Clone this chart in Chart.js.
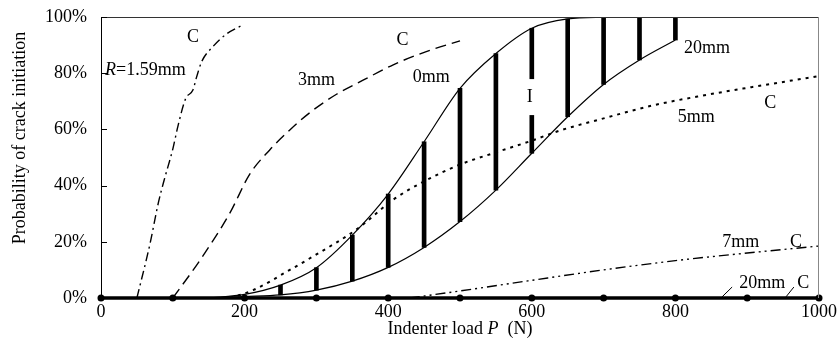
<!DOCTYPE html>
<html>
<head>
<meta charset="utf-8">
<script src="https://cdn.jsdelivr.net/npm/chart.js@4"></script>
<style>
  body { margin: 0; background: #fff; }
  #wrap { width: 840px; height: 358px; }
</style>
</head>
<body>
<div id="wrap"><canvas id="chart"></canvas></div>
<script>
// values (load in N, probability in %)
const r159Load = [50, 68, 80, 88, 100, 107, 118, 128, 133, 140, 156, 175, 196];
const r159Prob = [0, 19, 34, 42, 53, 61, 71, 74, 78.5, 84, 89.5, 94, 97];

const r3Load = [100, 138, 179, 207, 235, 263, 291, 328, 365, 407, 453, 500];
const r3Prob = [0, 13.5, 30, 44, 52.7, 59.8, 66, 72.5, 77.5, 83, 87.7, 91.5];

const bandLoad  = [150, 200, 250, 300, 350, 400, 450, 500, 550, 600, 650, 700, 750, 800];
const upperProb = [0, 1.3, 4.6, 10.8, 22.4, 37, 55.6, 74.6, 87, 96, 99.3, 99.9, 100, 100];
const lowerProb = [0, 0.5, 1.1, 2.8, 6, 10.9, 18, 27.2, 38.4, 51.5, 64.5, 76, 84.7, 91.8];
const barLoad = [250, 300, 350, 400, 450, 500, 550, 600, 650, 700, 750, 800];

const r5Load = [180, 212, 263, 300, 356, 407, 450, 500, 546, 600, 638, 694, 768, 833, 1000];
const r5Prob = [0, 2.8, 10, 15.5, 24.4, 35, 41.5, 47.5, 51.5, 56, 59.5, 63.5, 68.5, 71.8, 79];

const r7Load = [430, 500, 600, 700, 800, 900, 1000];
const r7Prob = [0, 2.5, 6.3, 10, 13.3, 16, 18.5];

const r20Load = [0, 100, 200, 300, 400, 500, 600, 700, 800, 900, 1000];
const r20Prob = [0, 0, 0, 0, 0, 0, 0, 0, 0, 0, 0];

const xTicks = [0, 200, 400, 600, 800, 1000];
const yTicks = [0, 20, 40, 60, 80, 100];

// text labels: [text, load, prob, align]
const notes = [
  ['C', 128, 92.9, 'center'],
  ['3mm', 300, 77.6, 'center'],
  ['C', 420, 91.8, 'center'],
  ['0mm', 460, 78.6, 'center'],
  ['20mm', 812, 89, 'left'],
  ['5mm', 829, 64.4, 'center'],
  ['C', 932, 69.4, 'center'],
  ['7mm', 891, 19.9, 'center'],
  ['C', 968, 19.9, 'center'],
  ['20mm', 921, 5.3, 'center'],
  ['C', 978, 5.3, 'center']
];
const leaders = [[865, 0.4, 879, 3.9], [954, 0.4, 965, 3.9]];

function pts(xs, ys) { return xs.map((x, i) => ({x: x, y: ys[i]})); }

const FONT = '"Liberation Serif", "Times New Roman", serif';

// draw text made of [string, italic] pieces, centred on x
function mixedText(ctx, parts, x, y) {
  let w = 0;
  parts.forEach(p => { ctx.font = (p[1] ? 'italic ' : '') + '18px ' + FONT; w += ctx.measureText(p[0]).width; });
  let cx = x - w / 2;
  ctx.textAlign = 'left';
  parts.forEach(p => {
    ctx.font = (p[1] ? 'italic ' : '') + '18px ' + FONT;
    ctx.fillText(p[0], cx, y);
    cx += ctx.measureText(p[0]).width;
  });
}

const decor = {
  id: 'decor',
  afterDatasetsDraw(chart) {
    const ctx = chart.ctx, a = chart.chartArea;
    const xs = chart.scales.x, ys = chart.scales.y;
    ctx.save();
    // frame top and right
    ctx.lineWidth = 1;
    ctx.strokeStyle = '#333';
    ctx.beginPath(); ctx.moveTo(a.left, a.top + 0.5); ctx.lineTo(a.right, a.top + 0.5); ctx.stroke();
    ctx.strokeStyle = '#888';
    ctx.beginPath(); ctx.moveTo(a.right - 0.5, a.top); ctx.lineTo(a.right - 0.5, a.bottom); ctx.stroke();
    // inner y ticks
    ctx.strokeStyle = '#000';
    yTicks.forEach(v => {
      const y = Math.round(ys.getPixelForValue(v)) + 0.5;
      ctx.beginPath(); ctx.moveTo(a.left, y); ctx.lineTo(a.left + 6, y); ctx.stroke();
    });
    // text labels
    ctx.fillStyle = '#000';
    ctx.font = '18px ' + FONT;
    ctx.textBaseline = 'middle';
    notes.forEach(n => {
      ctx.textAlign = n[3];
      ctx.fillText(n[0], xs.getPixelForValue(n[1]), ys.getPixelForValue(n[2]));
    });
    // R=1.59mm with italic R
    let px = xs.getPixelForValue(5.6), py = ys.getPixelForValue(81.1);
    ctx.textAlign = 'left';
    ctx.font = 'italic 18px ' + FONT;
    ctx.fillText('R', px, py);
    px += ctx.measureText('R').width;
    ctx.font = '18px ' + FONT;
    ctx.fillText('=1.59mm', px, py);
    // I label with gap in the bar
    const ix = xs.getPixelForValue(597), iy = ys.getPixelForValue(71.5);
    ctx.fillStyle = '#fff';
    ctx.fillRect(ix - 8, iy - 18, 16, 36);
    ctx.fillStyle = '#000';
    ctx.textAlign = 'center';
    ctx.fillText('I', ix, iy);
    // leader lines
    ctx.lineWidth = 1;
    leaders.forEach(l => {
      ctx.beginPath();
      ctx.moveTo(xs.getPixelForValue(l[0]), ys.getPixelForValue(l[1]));
      ctx.lineTo(xs.getPixelForValue(l[2]), ys.getPixelForValue(l[3]));
      ctx.stroke();
    });
    // x axis title
    mixedText(ctx, [['Indenter load ', false], ['P', true], ['  (N)', false]], (a.left + a.right) / 2, 329);
    // y axis title
    ctx.translate(20, 138);
    ctx.rotate(-Math.PI / 2);
    ctx.textAlign = 'center';
    ctx.font = '18px ' + FONT;
    ctx.fillText('Probability of crack initiation', 0, 0);
    ctx.restore();
  }
};

const lineBase = {
  type: 'line', pointRadius: 0, fill: false, borderColor: '#000',
  cubicInterpolationMode: 'monotone', borderWidth: 1.4
};

new Chart(document.getElementById('chart'), {
  type: 'line',
  data: {
    datasets: [
      Object.assign({}, lineBase, { label: '20mm', data: pts(r20Load, r20Prob), borderWidth: 3.5,
        pointRadius: 3.5, pointBackgroundColor: '#000', pointBorderWidth: 0, clip: false }),
      Object.assign({}, lineBase, { label: 'R=1.59mm', data: pts(r159Load, r159Prob), borderDash: [9, 4, 2, 4] }),
      Object.assign({}, lineBase, { label: '3mm', data: pts(r3Load, r3Prob), borderDash: [11, 6] }),
      Object.assign({}, lineBase, { label: '0mm', data: pts(bandLoad, upperProb), borderWidth: 1.2 }),
      Object.assign({}, lineBase, { label: '20mm lower', data: pts(bandLoad, lowerProb), borderWidth: 1.2 }),
      Object.assign({}, lineBase, { label: '5mm', data: pts(r5Load, r5Prob), borderDash: [3, 5], borderWidth: 2 }),
      Object.assign({}, lineBase, { label: '7mm', data: pts(r7Load, r7Prob), borderDash: [10, 4, 2, 4, 2, 4] }),
      {
        type: 'bar', label: 'I',
        data: barLoad.map(x => {
          const i = bandLoad.indexOf(x);
          return {x: x, y: [lowerProb[i], upperProb[i]]};
        }),
        backgroundColor: '#000', barThickness: 4
      }
    ]
  },
  options: {
    responsive: true,
    maintainAspectRatio: false,
    animation: false,
    layout: { padding: { left: 0, right: 20, top: 17, bottom: 0 } },
    plugins: { legend: { display: false }, tooltip: { enabled: false } },
    scales: {
      x: {
        type: 'linear', min: 0, max: 1000, offset: false,
        afterBuildTicks: s => { s.ticks = xTicks.map(v => ({value: v})); },
        afterFit: s => { s.height = 60; },
        grid: { display: false, offset: false, drawTicks: false, tickLength: 0 },
        border: { display: false },
        ticks: { color: '#000', padding: 3, font: { family: FONT, size: 18 },
                 callback: v => String(v) }
      },
      y: {
        min: 0, max: 100,
        afterBuildTicks: s => { s.ticks = yTicks.map(v => ({value: v})); },
        afterFit: s => { s.width = 101; s.paddingTop = 8; s.paddingBottom = 8; },
        grid: { display: false, drawTicks: false, tickLength: 0 },
        border: { display: true, color: '#000', width: 1 },
        ticks: { color: '#000', padding: 14, font: { family: FONT, size: 18 },
                 callback: v => v + '%' }
      }
    }
  },
  plugins: [decor]
});
</script>
</body>
</html>
